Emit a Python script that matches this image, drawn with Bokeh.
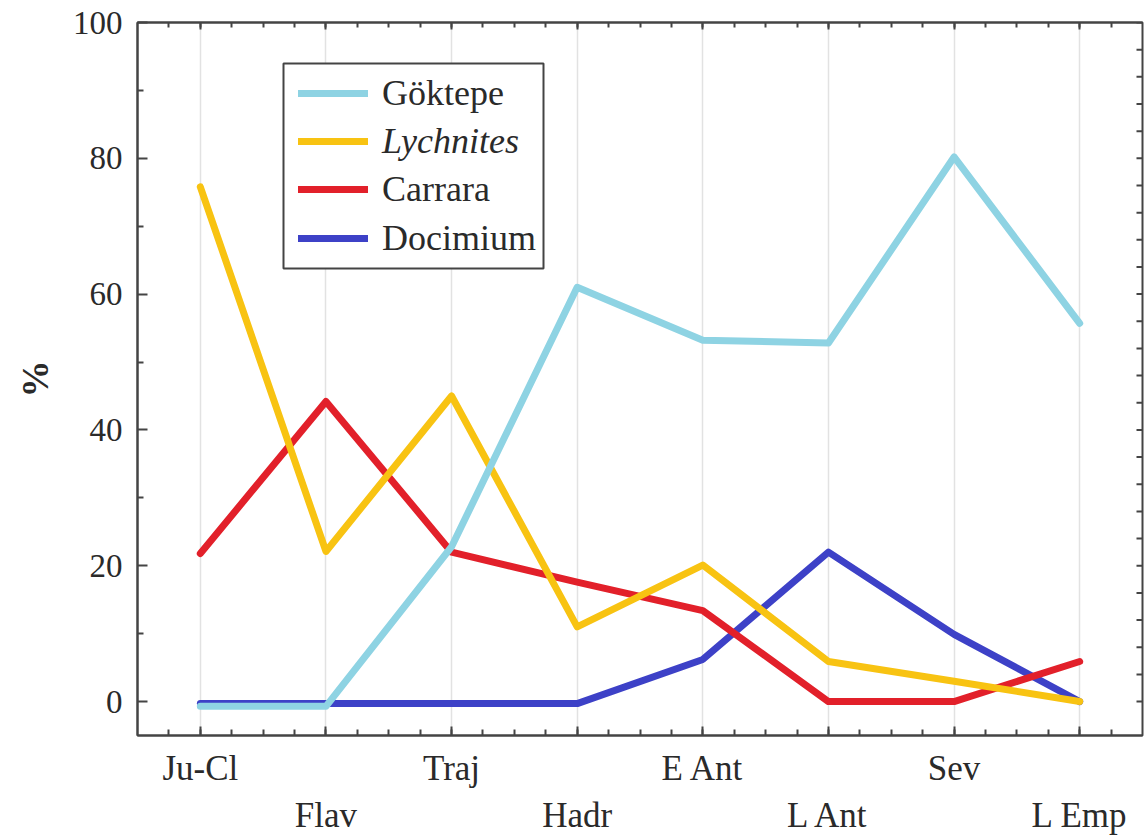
import numpy as np
from bokeh.plotting import figure
from bokeh.models import (FixedTicker, LinearAxis, Range1d, Legend, LegendItem,
                          BoxAnnotation)
from bokeh.embed import file_html
from bokeh.resources import INLINE

# ---------------- data ----------------
periods = ["Ju-Cl", "Flav", "Traj", "Hadr", "E Ant", "L Ant", "Sev", "L Emp"]
goktepe = [-0.7, -0.7, 22.8, 61.0, 53.2, 52.8, 80.2, 55.7]
lychnites = [75.8, 22.1, 45.0, 11.0, 20.1, 5.9, 3.0, 0.0]
carrara = [21.8, 44.2, 22.0, 17.6, 13.4, 0.0, 0.0, 5.9]
docimium = [-0.3, -0.3, -0.3, -0.3, 6.2, 22.0, 9.9, 0.0]
y_ticks = [0, 20, 40, 60, 80, 100]
y_minor = [10, 30, 50, 70, 90]

FONT = "Liberation Serif"
TXT = "#2a2a2a"
AX = "#444444"

xs = list(range(len(periods)))
n = len(periods)
x_start, x_end = -0.5, n - 0.5
y_start, y_end = -5, 100

p = figure(width=1144, height=840, output_backend="svg", toolbar_location=None,
           x_range=Range1d(x_start, x_end), y_range=Range1d(y_start, y_end),
           min_border_left=137, min_border_right=2, min_border_top=22,
           min_border_bottom=105)
p.background_fill_color = "white"
p.border_fill_color = "white"
p.outline_line_color = AX
p.outline_line_width = 2
p.ygrid.grid_line_color = None
p.xgrid.ticker = FixedTicker(ticks=xs)
p.xgrid.grid_line_color = "#e2e2e2"
p.xgrid.grid_line_width = 1.5

quarters = list(np.arange(x_start + 0.25, x_end, 0.25))


def style_ticks(ax, major_in, minor_in):
    ax.axis_line_color = AX
    ax.axis_line_width = 2
    ax.major_tick_in = major_in
    ax.major_tick_out = 0
    ax.minor_tick_in = minor_in
    ax.minor_tick_out = 0
    ax.major_tick_line_color = AX
    ax.minor_tick_line_color = AX
    ax.major_tick_line_width = 2
    ax.minor_tick_line_width = 2


# bottom axis: ticks at every category, labels on even ones
xa = p.xaxis[0]
xa.ticker = FixedTicker(ticks=xs, minor_ticks=quarters)
xa.major_label_overrides = {i: (periods[i] if i % 2 == 0 else "") for i in xs}
xa.major_label_text_font = FONT
xa.major_label_text_font_size = "35px"
xa.major_label_text_color = TXT
xa.major_label_standoff = 13
style_ticks(xa, 9, 6)

# second row of labels
xa2 = LinearAxis(ticker=FixedTicker(ticks=[i for i in xs if i % 2 == 1]),
                 major_label_overrides={i: periods[i] for i in xs if i % 2 == 1})
xa2.axis_line_color = None
xa2.major_tick_line_color = None
xa2.minor_tick_line_color = None
xa2.major_tick_in = 0
xa2.major_tick_out = 0
xa2.minor_tick_in = 0
xa2.minor_tick_out = 0
xa2.major_label_text_font = FONT
xa2.major_label_text_font_size = "35px"
xa2.major_label_text_color = TXT
xa2.major_label_standoff = 5
p.add_layout(xa2, "below")

# y axis
ya = p.yaxis[0]
ya.ticker = FixedTicker(ticks=y_ticks, minor_ticks=y_minor)
ya.major_label_text_font = FONT
ya.major_label_text_font_size = "33px"
ya.major_label_text_color = TXT
ya.major_label_standoff = 15
style_ticks(ya, 10, 6)
ya.axis_label = "%"
ya.axis_label_text_font = FONT
ya.axis_label_text_font_size = "37px"
ya.axis_label_text_font_style = "bold"
ya.axis_label_text_color = TXT
ya.axis_label_standoff = 14

# top axis (ticks only)
ta = LinearAxis(ticker=FixedTicker(ticks=xs, minor_ticks=quarters),
                major_label_overrides={i: "" for i in xs})
ta.major_label_text_font_size = "0px"
ta.major_label_standoff = 0
style_ticks(ta, 7, 5)
p.add_layout(ta, "above")

# right-side inner ticks, drawn from the frame's right edge
right_ticks = list(range(0, y_end + 1, 4))
p.ray(x=[x_end] * len(right_ticks), y=right_ticks, length=6,
      length_units="screen", angle=np.pi, line_color=AX, line_width=2)

# ---------------- lines ----------------
LW = 7
r_doc = p.line(xs, docimium, line_color="#3d41c7", line_width=LW,
               line_join="round", line_cap="round")
r_car = p.line(xs, carrara, line_color="#e2202a", line_width=LW,
               line_join="round", line_cap="round")
r_lyc = p.line(xs, lychnites, line_color="#f8c312", line_width=LW,
               line_join="round", line_cap="round")
r_gok = p.line(xs, goktepe, line_color="#8ed3e3", line_width=LW,
               line_join="round", line_cap="round")

# ---------------- legend ----------------
box = BoxAnnotation(left=146, right=406, bottom=467, top=672,
                    left_units="screen", right_units="screen",
                    bottom_units="screen", top_units="screen",
                    fill_color="white", fill_alpha=1.0,
                    line_color=AX, line_width=2, line_alpha=1.0)
p.add_layout(box)


def make_legend(items, loc, style="normal"):
    lg = Legend(items=items, location=loc)
    lg.padding = 0
    lg.margin = 0
    lg.spacing = 7
    lg.border_line_color = None
    lg.background_fill_alpha = 0
    lg.glyph_width = 70
    lg.glyph_height = 40
    lg.label_height = 40
    lg.label_standoff = 14
    lg.label_text_font = FONT
    lg.label_text_font_size = "36px"
    lg.label_text_font_style = style
    lg.label_text_color = TXT
    lg.label_text_baseline = "middle"
    return lg


p.add_layout(make_legend([LegendItem(label="Göktepe", renderers=[r_gok])], (161, 621)))
p.add_layout(make_legend([LegendItem(label="Lychnites", renderers=[r_lyc])], (161, 573), "italic"))
p.add_layout(make_legend([LegendItem(label="Carrara", renderers=[r_car]),
                          LegendItem(label="Docimium", renderers=[r_doc])], (161, 476)))

open("out.html", "w").write(file_html(p, INLINE))
